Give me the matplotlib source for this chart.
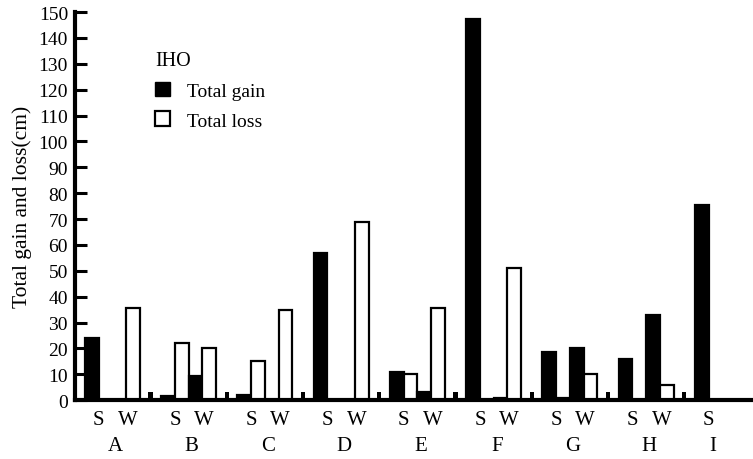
import numpy as np
import matplotlib
matplotlib.use("Agg")
import matplotlib.pyplot as plt
from matplotlib.patches import Patch

plt.rcParams['font.family'] = ['Liberation Serif', 'DejaVu Serif']

sites = ["A", "B", "C", "D", "E", "F", "G", "H", "I"]
s_gain = [24, 1.5, 2, 57, 11, 147.5, 18.5, 16, 75.5]
s_loss = [0, 22, 15, 0, 10, 0, 1, 0, 0]
w_gain = [0, 9.5, 0, 0, 3, 1, 20, 33, 0]
w_loss = [35.5, 20, 35, 69, 35.5, 51, 10, 6, 0]
has_winter = [True] * 8 + [False]
sep_height = 3

fig = plt.figure(figsize=(7.53, 4.60), dpi=100)
ax = fig.add_axes([0.0996, 0.128, 0.899, 0.8435])

x = np.arange(len(sites))
w = 0.18
ax.bar(x + 0.09, s_gain, w, color="black", edgecolor="black", lw=1.6)
ax.bar(x + 0.27, s_loss, w, color="white", edgecolor="black", lw=1.6)
ax.bar(x[:-1] + 0.45, w_gain[:-1], w, color="black", edgecolor="black", lw=1.6)
ax.bar(x[:-1] + 0.63, w_loss[:-1], w, color="white", edgecolor="black", lw=1.6)
# little separator marks between sites
ax.bar(x[:-1] + 0.86, [sep_height] * 8, 0.055, color="black")

ax.set_xlim(-0.131, 8.748)
ax.set_ylim(0, 150)
ax.set_yticks(range(0, 151, 10))
ax.tick_params(axis="y", direction="in", length=8.6, width=2.2, labelsize=14, pad=5)
ax.set_xticks([])
for s in ["top", "right"]:
    ax.spines[s].set_visible(False)
ax.spines["left"].set_linewidth(3)
ax.spines["bottom"].set_linewidth(3)
ax.set_ylabel("Total gain and loss(cm)", fontsize=15.5, labelpad=5)

tr = ax.get_xaxis_transform()
for i, name in enumerate(sites):
    ax.text(i + 0.18, -0.05, "S", transform=tr, ha="center", va="center", fontsize=15)
    if has_winter[i]:
        ax.text(i + 0.56, -0.05, "W", transform=tr, ha="center", va="center", fontsize=15)
        ax.text(i + 0.40, -0.118, name, transform=tr, ha="center", va="center", fontsize=15)
    else:
        ax.text(i + 0.24, -0.118, name, transform=tr, ha="center", va="center", fontsize=15)

handles = [Patch(facecolor="black", edgecolor="black", label="Total gain"),
           Patch(facecolor="white", edgecolor="black", lw=1.6, label="Total loss")]
leg = ax.legend(handles=handles, title="IHO", loc="upper left",
                bbox_to_anchor=(0.093, 0.945), frameon=False, fontsize=14,
                title_fontsize=14.5, alignment="left", handlelength=0.75,
                handleheight=0.8, handletextpad=0.85, labelspacing=0.6)

fig.savefig("out.png", dpi=100)
